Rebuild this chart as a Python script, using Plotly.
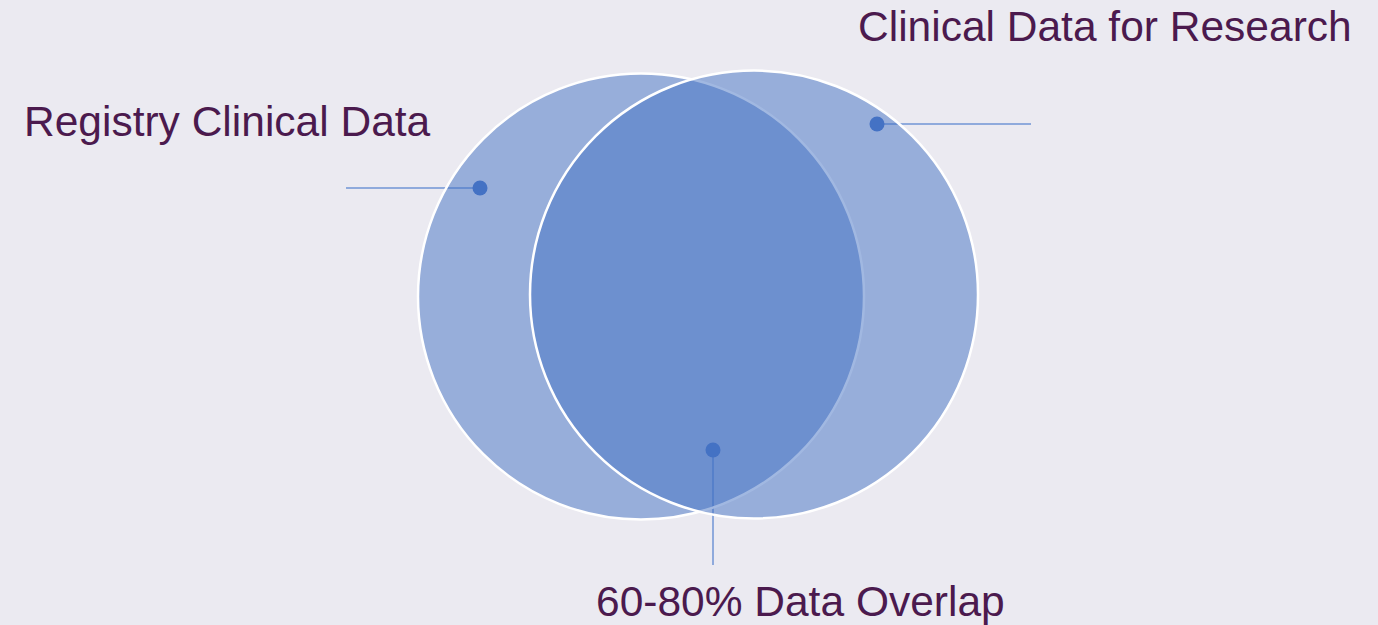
import plotly.graph_objects as go

# ---- data ----
set_names = ["Registry Clinical Data", "Clinical Data for Research"]
overlap_label = "60-80% Data Overlap"

# ---- layout geometry (pixel space) ----
W, H = 1378, 625
circles = [  # cx, cy, r
    (641, 296.5, 223),
    (754, 294.5, 224),
]
fill = "rgba(68,114,196,0.5)"
txt_color = "#4B1A4E"
font_family = "Liberation Sans, Arial, sans-serif"
dot_color = "#4472C4"
leader_color = "#7094D4"

# leader lines: (dot point, end point)
leaders = [
    ((480, 188), (346, 188)),
    ((877, 124), (1031, 124)),
    ((713, 450), (713, 565)),
]
# label anchors: (x, y, xanchor)
label_pos = [
    (22, 121, "left"),
    (856, 26, "left"),
    (800, 601, "center"),
]
labels = set_names + [overlap_label]

fig = go.Figure()

shapes = []
for cx, cy, r in circles:
    shapes.append(dict(type="circle", xref="x", yref="y",
                       x0=cx - r, x1=cx + r, y0=cy - r, y1=cy + r,
                       fillcolor=fill, line=dict(color="white", width=2.5),
                       layer="above"))

for (p, q) in leaders:
    fig.add_trace(go.Scatter(x=[p[0], q[0]], y=[p[1], q[1]], mode="lines",
                             line=dict(color=leader_color, width=1.5),
                             hoverinfo="skip", showlegend=False))
fig.add_trace(go.Scatter(x=[p[0] for p, q in leaders], y=[p[1] for p, q in leaders],
                         mode="markers", marker=dict(size=15, color=dot_color),
                         hoverinfo="skip", showlegend=False))

annotations = []
for text, (x, y, xa) in zip(labels, label_pos):
    annotations.append(dict(x=x, y=y, xref="x", yref="y", text=text,
                            showarrow=False, xanchor=xa, yanchor="middle",
                            font=dict(family=font_family, size=42.5, color=txt_color)))

fig.update_layout(
    width=W, height=H,
    margin=dict(l=0, r=0, t=0, b=0),
    paper_bgcolor="#EBEAF1", plot_bgcolor="#EBEAF1",
    shapes=shapes, annotations=annotations,
    xaxis=dict(range=[0, W], visible=False, fixedrange=True),
    yaxis=dict(range=[H, 0], visible=False, fixedrange=True),
    showlegend=False,
)
fig.write_html("out.html", config={"displayModeBar": False},
               post_script="document.body.style.margin='0';document.body.style.overflow='hidden';document.body.style.background='#EBEAF1';")
